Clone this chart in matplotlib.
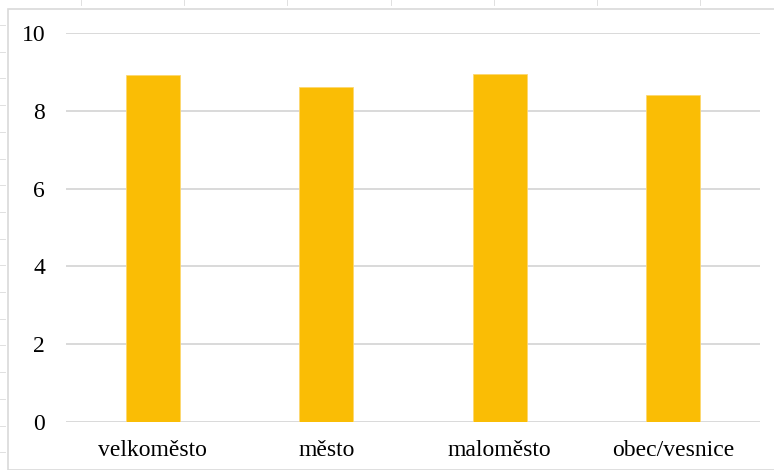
import matplotlib.pyplot as plt
from matplotlib.lines import Line2D
from matplotlib.patches import Rectangle

# values per settlement type
categories = ["velkoměsto", "město", "maloměsto", "obec/vesnice"]
values = [8.92, 8.62, 8.95, 8.41]
yticks = [0, 2, 4, 6, 8, 10]

plt.rcParams["font.family"] = ["Liberation Serif", "DejaVu Serif"]

fig = plt.figure(figsize=(7.74, 4.70), dpi=100)
ax = fig.add_axes([66 / 774, 1 - 422 / 470, 694 / 774, (422 - 33) / 470])

x = range(len(categories))
ax.bar(x, values, width=0.31, color="#FABD05", edgecolor="#FDD870", linewidth=0.6, zorder=3)

ax.set_xlim(-0.5, len(categories) - 0.5)
ax.set_ylim(0, 10)
ax.set_yticks(yticks)
ax.set_xticks(list(x))
ax.set_xticklabels(categories)
ax.tick_params(axis="both", length=0, labelsize=17, colors="#000000")
ax.tick_params(axis="y", pad=15)
ax.tick_params(axis="x", pad=13)
ax.grid(axis="y", color="#D9D9D9", linewidth=1.4, zorder=0)
for s in ax.spines.values():
    s.set_visible(False)

# chart frame
fig.patches.append(Rectangle((8 / 774, 0), 1, 1 - 9 / 470, transform=fig.transFigure,
                             fill=False, edgecolor="#D9D9D9", linewidth=1.2))

# ruler marks along the top and left edges
for px in [81, 184, 287, 391, 494, 597, 700]:
    fig.add_artist(Line2D([px / 774, px / 774], [1, 1 - 5 / 470], color="#E0E0E0", lw=0.7))
for i in range(17):
    py = 25 + i * 26.7
    fig.add_artist(Line2D([0, 5 / 774], [1 - py / 470, 1 - py / 470], color="#E0E0E0", lw=0.7))

fig.savefig("out.png", dpi=100)
